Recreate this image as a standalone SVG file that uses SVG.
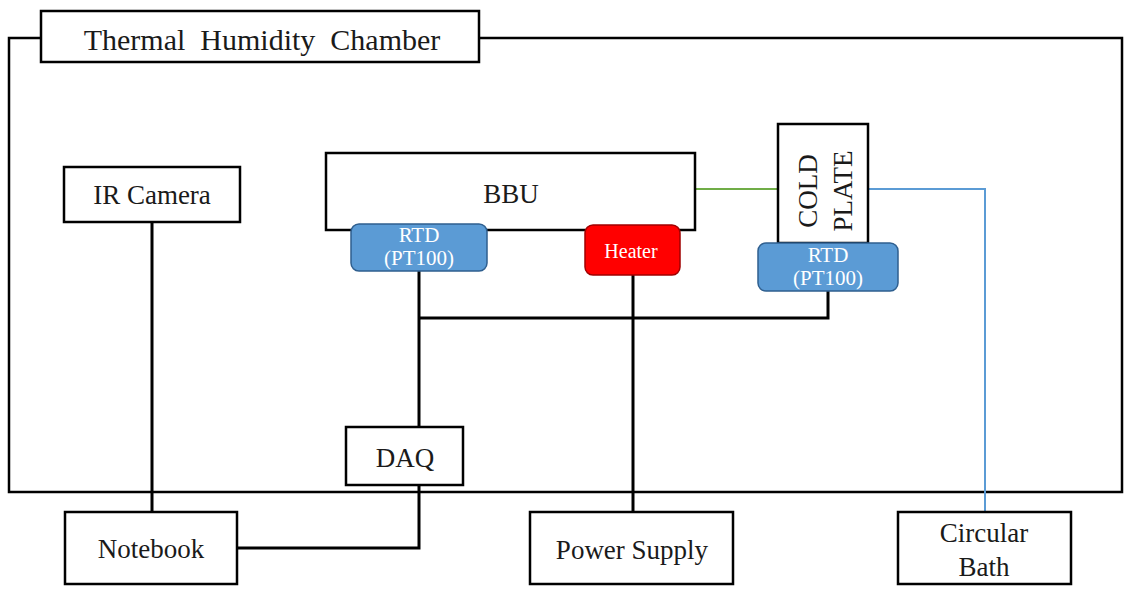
<svg xmlns="http://www.w3.org/2000/svg" width="1127" height="589" viewBox="0 0 1127 589">
<style>
.box{fill:#fff;stroke:#000;stroke-width:2.5}
.t{font-family:"Liberation Serif","Times New Roman",serif;fill:#1a1a1a;text-anchor:middle;font-size:27px}
.w{font-family:"Liberation Serif","Times New Roman",serif;fill:#fff;text-anchor:middle;font-size:21px}
.blk{fill:none;stroke:#000;stroke-width:3}
.rtd{fill:#5b9bd5;stroke:#2f5f8f;stroke-width:1.5}
</style>
<rect width="1127" height="589" fill="#fff"/>
<g id="chamber">
<rect x="9" y="38" width="1113" height="454" fill="none" stroke="#000" stroke-width="2.5"/>
<rect class="box" x="41" y="11" width="438" height="51"/>
<text class="t" x="262" y="50" font-size="30" xml:space="preserve" style="white-space:pre;font-size:30px">Thermal  Humidity  Chamber</text>
</g>
<g id="connectors">
<polyline class="blk" points="152,222 152,512"/>
<polyline class="blk" points="419,271 419,427"/>
<polyline class="blk" points="419,318 828,318 828,291"/>
<polyline class="blk" points="633,275 633,512"/>
<polyline class="blk" points="419,485 419,548 237,548"/>
<line x1="695" y1="189" x2="778" y2="189" stroke="#70ad47" stroke-width="2"/>
<polyline points="868,189 985,189 985,512" fill="none" stroke="#5b9bd5" stroke-width="2"/>
</g>
<g id="ir-camera">
<rect class="box" x="64" y="167" width="176" height="55"/>
<text class="t" x="152" y="204">IR Camera</text>
</g>
<g id="bbu">
<rect class="box" x="326" y="153" width="369" height="77"/>
<text class="t" x="511" y="203">BBU</text>
</g>
<g id="rtd-left">
<rect class="rtd" x="351" y="224" width="136" height="47" rx="8"/>
<text class="w" x="419" y="242">RTD</text>
<text class="w" x="419" y="265">(PT100)</text>
</g>
<g id="heater">
<rect x="585" y="225" width="95" height="50" rx="8" fill="#ff0000" stroke="#a00000" stroke-width="1.5"/>
<text class="w" x="631" y="258" style="font-size:20px">Heater</text>
</g>
<g id="cold-plate">
<rect class="box" x="778" y="124" width="90" height="119"/>
<text class="t" transform="translate(823,191) rotate(-90)"><tspan x="0" y="-6">COLD</tspan><tspan x="0" y="29">PLATE</tspan></text>
</g>
<g id="rtd-right">
<rect class="rtd" x="758" y="243" width="140" height="48" rx="8"/>
<text class="w" x="828" y="262">RTD</text>
<text class="w" x="828" y="285">(PT100)</text>
</g>
<g id="daq">
<rect class="box" x="346" y="427" width="117" height="58"/>
<text class="t" x="405" y="467">DAQ</text>
</g>
<g id="notebook">
<rect class="box" x="65" y="512" width="172" height="72"/>
<text class="t" x="151" y="558">Notebook</text>
</g>
<g id="power-supply">
<rect class="box" x="530" y="512" width="203" height="72"/>
<text class="t" x="632" y="559">Power Supply</text>
</g>
<g id="circular-bath">
<rect class="box" x="898" y="512" width="173" height="72"/>
<text class="t" x="984" y="542">Circular</text>
<text class="t" x="984" y="576">Bath</text>
</g>
</svg>
